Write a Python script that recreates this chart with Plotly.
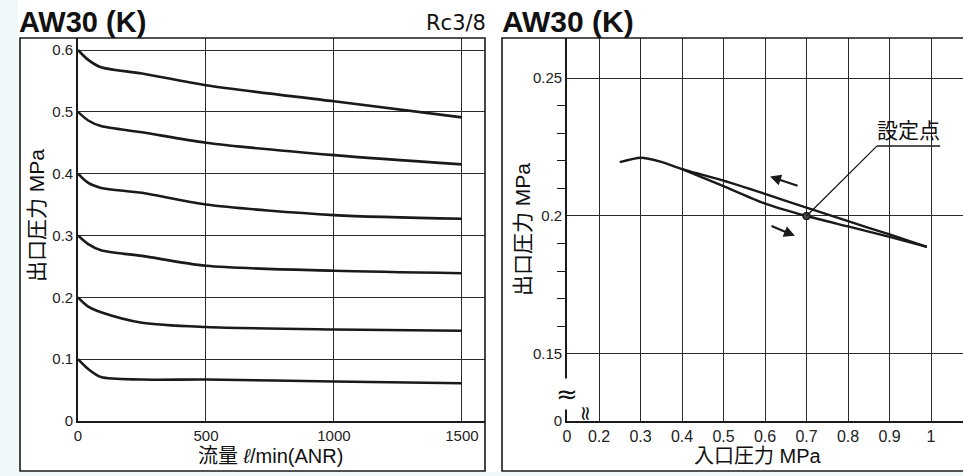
import plotly.graph_objects as go

W, H = 963, 476

# ---------------- data: left chart (flow characteristics) ----------------
flow = [0, 40, 90, 250, 500, 1000, 1500]
p_06 = [0.600, 0.584, 0.572, 0.562, 0.543, 0.517, 0.491]
p_05 = [0.500, 0.486, 0.477, 0.467, 0.450, 0.430, 0.415]
p_04 = [0.400, 0.385, 0.377, 0.369, 0.350, 0.333, 0.327]
p_03 = [0.300, 0.286, 0.276, 0.267, 0.251, 0.243, 0.239]
p_02 = [0.200, 0.185, 0.176, 0.159, 0.152, 0.148, 0.146]
p_01 = [0.100, 0.084, 0.071, 0.067, 0.067, 0.064, 0.061]
left_series = [p_06, p_05, p_04, p_03, p_02, p_01]
left_xticks = [0, 500, 1000, 1500]
left_yticks = [0, 0.1, 0.2, 0.3, 0.4, 0.5, 0.6]
left_yticklabels = ["0", "0.1", "0.2", "0.3", "0.4", "0.5", "0.6"]

# ---------------- data: right chart (pressure characteristics) ----------------
inlet_dec = [0.25, 0.30, 0.35, 0.40, 0.50, 0.60, 0.70, 0.80, 0.90, 0.99]
outlet_dec = [0.2195, 0.2211, 0.2196, 0.2170, 0.2128, 0.2080, 0.2030, 0.1981, 0.1933, 0.1888]
inlet_inc = [0.40, 0.50, 0.60, 0.70, 0.80, 0.90, 0.99]
outlet_inc = [0.2170, 0.2108, 0.2045, 0.2000, 0.1962, 0.1924, 0.1888]
set_point_x = [0.7]
set_point_y = [0.2]
right_x_break = 0.1229   # broken-axis position labelled "0"
right_y_break = 0.1257
right_xticks = [right_x_break, 0.2, 0.3, 0.4, 0.5, 0.6, 0.7, 0.8, 0.9, 1.0]
right_xticklabels = ["0", "0.2", "0.3", "0.4", "0.5", "0.6", "0.7", "0.8", "0.9", "1"]
right_yticks = [right_y_break, 0.15, 0.2, 0.25]
right_yticklabels = ["0", "0.15", "0.2", "0.25"]
right_minor = [0.16, 0.17, 0.18, 0.19, 0.21, 0.22, 0.23, 0.24]

FONT = "Liberation Sans, Arial, Noto Sans CJK JP"
INK = "#1a1a1a"


def px(x):
    return x / W


def py(y):
    return (H - y) / H


fig = go.Figure()

for s in left_series:
    fig.add_trace(go.Scatter(x=flow, y=s, mode="lines", xaxis="x", yaxis="y",
                             line=dict(color=INK, width=2.6, shape="spline", smoothing=0.8),
                             showlegend=False, hoverinfo="skip"))

fig.add_trace(go.Scatter(x=inlet_dec, y=outlet_dec, mode="lines", xaxis="x2", yaxis="y2",
                         line=dict(color=INK, width=2.4, shape="spline", smoothing=0.6),
                         showlegend=False, hoverinfo="skip"))
fig.add_trace(go.Scatter(x=inlet_inc, y=outlet_inc, mode="lines", xaxis="x2", yaxis="y2",
                         line=dict(color=INK, width=2.4, shape="spline", smoothing=0.6),
                         showlegend=False, hoverinfo="skip"))
fig.add_trace(go.Scatter(x=set_point_x, y=set_point_y, mode="markers", xaxis="x2", yaxis="y2",
                         marker=dict(color="#444", size=7, line=dict(color=INK, width=1.5)),
                         showlegend=False, hoverinfo="skip"))

base = dict(showgrid=True, gridcolor="#2a2a2a", gridwidth=1.4, zeroline=False,
            showline=True, linecolor=INK, linewidth=1.6, ticks="", fixedrange=True,
            automargin=False)
tf_left = dict(family=FONT, size=15, color="#222")
tf_right_x = dict(family=FONT, size=16, color="#222")

fig.update_layout(
    template="none",
    width=W, height=H, autosize=False,
    margin=dict(l=0, r=0, t=0, b=0, pad=0),
    paper_bgcolor="white", plot_bgcolor="white",
    showlegend=False,
    xaxis=dict(domain=[px(78), px(485)], range=[0, 1590], tickmode="array",
               tickvals=left_xticks, anchor="y", tickfont=tf_left, **base),
    yaxis=dict(domain=[py(421), py(38)], range=[0, 0.6194], tickmode="array",
               tickvals=left_yticks, ticktext=left_yticklabels, anchor="x",
               tickfont=tf_left, **base),
    xaxis2=dict(domain=[px(567), 1.0], range=[right_x_break, 1.077], tickmode="array",
                tickvals=right_xticks, ticktext=right_xticklabels, anchor="y2",
                tickfont=tf_right_x, **base),
    yaxis2=dict(domain=[py(421), py(38)], range=[right_y_break, 0.2645], tickmode="array",
                tickvals=right_yticks, ticktext=right_yticklabels, anchor="x2",
                tickfont=tf_left,
                minor=dict(tickmode="array", tickvals=right_minor, ticks="outside",
                           ticklen=8, tickwidth=1.3, tickcolor=INK, showgrid=False),
                **base),
)

shapes = [
    # light tinted scan edges
    dict(type="rect", xref="paper", yref="paper", x0=0, x1=px(18), y0=0, y1=1,
         fillcolor="#eff9f9", line=dict(width=0), layer="below"),
    dict(type="rect", xref="paper", yref="paper", x0=0, x1=1, y0=0, y1=py(472),
         fillcolor="#eff9f9", line=dict(width=0), layer="below"),
    # frames
    dict(type="rect", xref="paper", yref="paper", x0=px(20), x1=px(485), y0=py(471), y1=py(38),
         line=dict(color=INK, width=1.6)),
    dict(type="rect", xref="paper", yref="paper", x0=px(502), x1=px(975), y0=py(471), y1=py(38),
         line=dict(color=INK, width=1.6)),
    # set-point leader line and underline
    dict(type="line", xref="x2", yref="y2", x0=0.7, y0=0.2, x1=0.870, y1=0.2254,
         line=dict(color=INK, width=1.3)),
    dict(type="line", xref="x2", yref="y2", x0=0.870, y0=0.2254, x1=1.022, y1=0.2254,
         line=dict(color=INK, width=1.5)),
]
fig.update_layout(shapes=shapes)

ann = []


def txt(x, y, t, size, xanchor="center", angle=0, bold=False, family=FONT, **kw):
    ann.append(dict(xref="paper", yref="paper", x=px(x), y=py(y), text=("<b>%s</b>" % t) if bold else t,
                    showarrow=False, xanchor=xanchor, yanchor="middle", textangle=angle,
                    font=dict(family=family, size=size, color="#111"), **kw))


txt(17, 22, "AW30 (K)", 29, xanchor="left", bold=True)
txt(500, 22, "AW30 (K)", 30, xanchor="left", bold=True)
txt(488, 23, "Rc3/8", 21, xanchor="right", family="DejaVu Sans")
txt(36, 216, "出口圧力 MPa", 21, angle=-90)
txt(270, 456, "流量 <i>ℓ</i>/min(ANR)", 20)
txt(523, 230, "出口圧力 MPa", 21, angle=-90)
txt(758, 456, "入口圧力 MPa", 20)
txt(567, 394, "≈", 26, family="DejaVu Sans", bgcolor="white", borderpad=0)
txt(586, 413, "≈", 20, angle=90, family="DejaVu Sans")

# set point label
ann.append(dict(xref="x2", yref="y2", x=0.946, y=0.2254, text="設定点", showarrow=False,
                xanchor="center", yanchor="bottom", yshift=0,
                font=dict(family="Noto Sans CJK JP", size=21, color="#111")))
# direction arrows
ann.append(dict(xref="x2", yref="y2", axref="x2", ayref="y2", x=0.612, y=0.2143,
                ax=0.682, ay=0.2108, text="", showarrow=True, arrowhead=2, arrowsize=1.0,
                arrowwidth=2.2, arrowcolor=INK))
ann.append(dict(xref="x2", yref="y2", axref="x2", ayref="y2", x=0.672, y=0.1928,
                ax=0.612, ay=0.1966, text="", showarrow=True, arrowhead=2, arrowsize=1.0,
                arrowwidth=2.2, arrowcolor=INK))
fig.update_layout(annotations=ann)

fig.write_html("out.html", config={"displayModeBar": False, "responsive": False},
               post_script="document.body.style.margin='0';document.body.style.overflow='hidden';")
